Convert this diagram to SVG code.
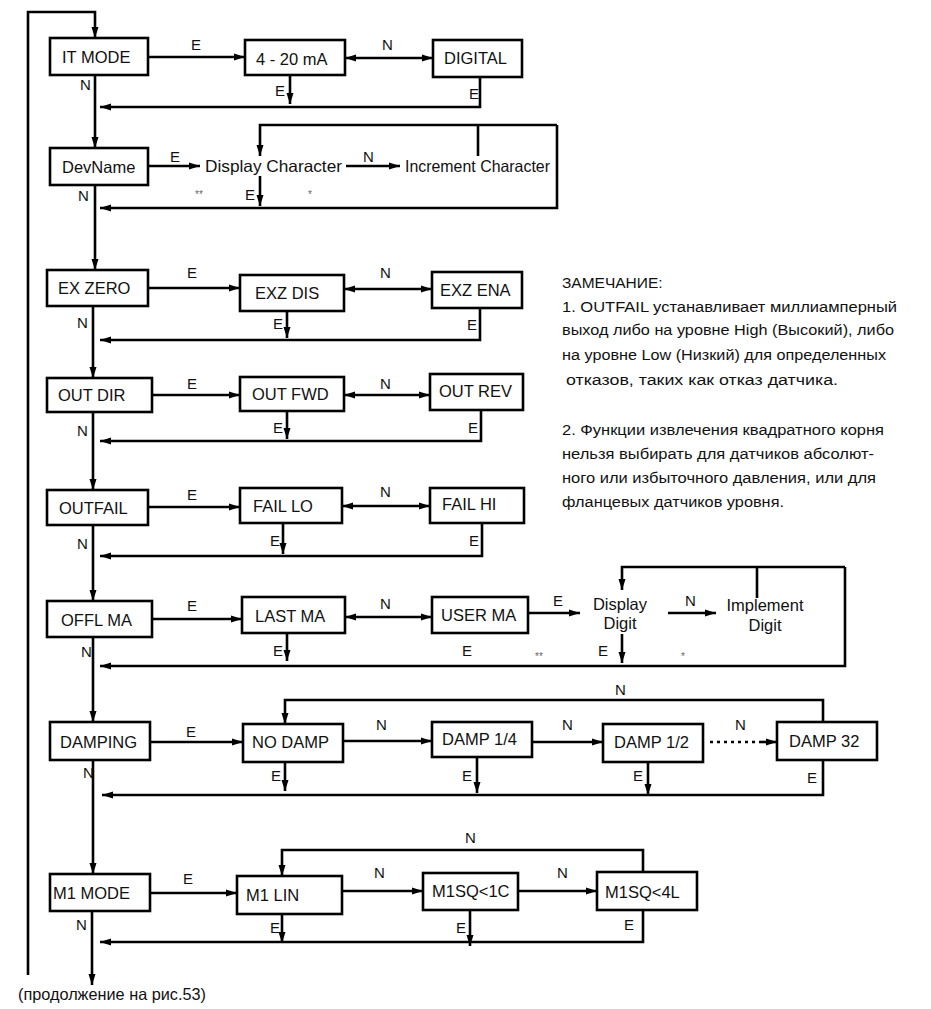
<svg xmlns="http://www.w3.org/2000/svg" width="931" height="1009" viewBox="0 0 931 1009">
<defs>
<marker id="ah" markerUnits="userSpaceOnUse" markerWidth="12" markerHeight="10" refX="11" refY="4.5" orient="auto-start-reverse">
<path d="M0,1 L11,4.5 L0,8 z" fill="#000"/>
</marker>
</defs>
<style>
.b{fill:#fff;stroke:#000;stroke-width:2.6}
.t{font-family:"Liberation Sans",Arial,sans-serif;font-size:16.5px;fill:#111}
.l{font-family:"Liberation Sans",Arial,sans-serif;font-size:15px;fill:#111}
.s{font-family:"Liberation Sans",Arial,sans-serif;font-size:10px;fill:#666}
.n{font-family:"Liberation Sans",Arial,sans-serif;font-size:15.5px;fill:#111}
.c{fill:none;stroke:#000;stroke-width:2.6}
.a{marker-end:url(#ah)}
.d{marker-start:url(#ah);marker-end:url(#ah)}
</style>
<rect width="931" height="1009" fill="#fff"/>

<g id="connectors">
<path class="c a" d="M28,975 V12 H95 V38"/>
<path class="c a" d="M95,75 V148"/>
<path class="c a" d="M95,185 V270"/>
<path class="c a" d="M93,306 V378"/>
<path class="c a" d="M93,412 V490"/>
<path class="c a" d="M93,525 V601"/>
<path class="c a" d="M93,637 V722"/>
<path class="c a" d="M93,760 V874"/>
<path class="c a" d="M92,911 V985"/>

<path class="c a" d="M148,57 H245"/>
<path class="c d" d="M345,58 H433"/>
<path class="c a" d="M290,75 V104"/>
<path class="c a" d="M480,77 V107 H100"/>

<path class="c a" d="M148,166 H200"/>
<path class="c a" d="M346,166 H400"/>
<path class="c" d="M478,156 V125"/>
<path class="c a" d="M557,125 H260 V156"/>
<path class="c a" d="M557,125 V208 H100"/>
<path class="c a" d="M260,176 V206"/>

<path class="c a" d="M148,288 H240"/>
<path class="c d" d="M344,289 H432"/>
<path class="c a" d="M287,311 V338"/>
<path class="c a" d="M480,308 V340 H100"/>

<path class="c a" d="M152,395 H240"/>
<path class="c d" d="M344,395 H430"/>
<path class="c a" d="M287,411 V439"/>
<path class="c a" d="M481,410 V441 H100"/>

<path class="c a" d="M148,507 H240"/>
<path class="c d" d="M342,506 H430"/>
<path class="c a" d="M283,523 V554"/>
<path class="c a" d="M482,523 V556 H100"/>

<path class="c a" d="M152,619 H242"/>
<path class="c d" d="M345,617 H432"/>
<path class="c a" d="M287,633 V661"/>
<path class="c a" d="M528,613 H580"/>
<path class="c a" d="M668,613 H716"/>
<path class="c" d="M757,598 V567"/>
<path class="c a" d="M845,567 H622 V590"/>
<path class="c a" d="M845,567 V666 H100"/>
<path class="c a" d="M622,634 V663"/>

<path class="c a" d="M150,742 H243"/>
<path class="c a" d="M343,741 H432"/>
<path class="c a" d="M532,742 H603"/>
<path class="c" d="M710,742 H760" stroke-dasharray="3,4"/>
<path class="c a" d="M760,742 H777"/>
<path class="c a" d="M823,722 V700 H285 V724"/>
<path class="c a" d="M285,762 V791"/>
<path class="c a" d="M477,757 V793"/>
<path class="c a" d="M648,762 V795"/>
<path class="c a" d="M823,760 V795 H102"/>

<path class="c a" d="M150,893 H237"/>
<path class="c a" d="M342,891 H423"/>
<path class="c a" d="M518,891 H597"/>
<path class="c a" d="M643,872 V850 H282 V876"/>
<path class="c a" d="M282,914 V943"/>
<path class="c a" d="M470,910 V946"/>
<path class="c a" d="M643,910 V942 H100"/>
</g>

<g id="edge-labels">
<text class="l" x="191" y="50">E</text>
<text class="l" x="382" y="50">N</text>
<text class="l" x="275" y="96">E</text>
<text class="l" x="469" y="99">E</text>
<text class="l" x="80" y="90">N</text>
<text class="l" x="170" y="162">E</text>
<text class="l" x="363" y="162">N</text>
<text class="l" x="245" y="200">E</text>
<text class="s" x="195" y="198">**</text>
<text class="s" x="308" y="198">*</text>
<text class="l" x="78" y="201">N</text>
<text class="l" x="187" y="278">E</text>
<text class="l" x="380" y="278">N</text>
<text class="l" x="273" y="329">E</text>
<text class="l" x="467" y="330">E</text>
<text class="l" x="77" y="328">N</text>
<text class="l" x="187" y="389">E</text>
<text class="l" x="380" y="389">N</text>
<text class="l" x="273" y="433">E</text>
<text class="l" x="468" y="433">E</text>
<text class="l" x="77" y="436">N</text>
<text class="l" x="187" y="500">E</text>
<text class="l" x="380" y="497">N</text>
<text class="l" x="270" y="546">E</text>
<text class="l" x="469" y="546">E</text>
<text class="l" x="77" y="549">N</text>
<text class="l" x="187" y="611">E</text>
<text class="l" x="380" y="609">N</text>
<text class="l" x="273" y="656">E</text>
<text class="l" x="462" y="656">E</text>
<text class="l" x="553" y="606">E</text>
<text class="l" x="685" y="606">N</text>
<text class="l" x="598" y="656">E</text>
<text class="s" x="535" y="660">**</text>
<text class="s" x="681" y="660">*</text>
<text class="l" x="81" y="657">N</text>
<text class="l" x="186" y="737">E</text>
<text class="l" x="376" y="730">N</text>
<text class="l" x="562" y="730">N</text>
<text class="l" x="735" y="730">N</text>
<text class="l" x="615" y="695">N</text>
<text class="l" x="271" y="781">E</text>
<text class="l" x="462" y="781">E</text>
<text class="l" x="633" y="781">E</text>
<text class="l" x="807" y="783">E</text>
<text class="l" x="83" y="778">N</text>
<text class="l" x="183" y="884">E</text>
<text class="l" x="374" y="878">N</text>
<text class="l" x="557" y="878">N</text>
<text class="l" x="465" y="843">N</text>
<text class="l" x="270" y="933">E</text>
<text class="l" x="456" y="933">E</text>
<text class="l" x="624" y="930">E</text>
<text class="l" x="76" y="930">N</text>
</g>

<g id="n-itmode"><rect class="b" x="50" y="38" width="98" height="37"/><text class="t" x="62" y="63">IT MODE</text></g>
<g id="n-420"><rect class="b" x="245" y="40" width="100" height="35"/><text class="t" x="256" y="65">4 - 20 mA</text></g>
<g id="n-digital"><rect class="b" x="433" y="40" width="89" height="37"/><text class="t" x="444" y="64">DIGITAL</text></g>

<g id="n-devname"><rect class="b" x="50" y="148" width="98" height="37"/><text class="t" x="62" y="173">DevName</text></g>
<g id="n-dispchar"><text class="t" x="205" y="172" textLength="137" lengthAdjust="spacingAndGlyphs">Display Character</text></g>
<g id="n-incchar"><text class="t" x="405" y="172" textLength="145" lengthAdjust="spacingAndGlyphs">Increment Character</text></g>

<g id="n-exzero"><rect class="b" x="47" y="270" width="101" height="36"/><text class="t" x="58" y="294">EX ZERO</text></g>
<g id="n-exzdis"><rect class="b" x="240" y="275" width="104" height="36"/><text class="t" x="255" y="299">EXZ DIS</text></g>
<g id="n-exzena"><rect class="b" x="432" y="272" width="90" height="36"/><text class="t" x="440" y="296">EXZ ENA</text></g>

<g id="n-outdir"><rect class="b" x="47" y="378" width="105" height="34"/><text class="t" x="58" y="401">OUT DIR</text></g>
<g id="n-outfwd"><rect class="b" x="240" y="377" width="104" height="34"/><text class="t" x="252" y="400">OUT FWD</text></g>
<g id="n-outrev"><rect class="b" x="430" y="374" width="93" height="36"/><text class="t" x="439" y="397">OUT REV</text></g>

<g id="n-outfail"><rect class="b" x="47" y="490" width="101" height="35"/><text class="t" x="59" y="514">OUTFAIL</text></g>
<g id="n-faillo"><rect class="b" x="240" y="488" width="102" height="35"/><text class="t" x="253" y="512">FAIL LO</text></g>
<g id="n-failhi"><rect class="b" x="430" y="488" width="94" height="35"/><text class="t" x="442" y="510">FAIL HI</text></g>

<g id="n-offlma"><rect class="b" x="47" y="601" width="105" height="36"/><text class="t" x="61" y="626">OFFL MA</text></g>
<g id="n-lastma"><rect class="b" x="242" y="597" width="103" height="36"/><text class="t" x="255" y="622">LAST MA</text></g>
<g id="n-userma"><rect class="b" x="432" y="597" width="96" height="36"/><text class="t" x="441" y="621">USER MA</text></g>
<g id="n-dispdigit"><text class="t" x="620" y="610" text-anchor="middle">Display</text><text class="t" x="620" y="629" text-anchor="middle">Digit</text></g>
<g id="n-impdigit"><text class="t" x="765" y="611" text-anchor="middle">Implement</text><text class="t" x="765" y="631" text-anchor="middle">Digit</text></g>

<g id="n-damping"><rect class="b" x="50" y="722" width="100" height="38"/><text class="t" x="60" y="748">DAMPING</text></g>
<g id="n-nodamp"><rect class="b" x="243" y="724" width="100" height="38"/><text class="t" x="252" y="748">NO DAMP</text></g>
<g id="n-damp14"><rect class="b" x="432" y="722" width="100" height="35"/><text class="t" x="442" y="745">DAMP 1/4</text></g>
<g id="n-damp12"><rect class="b" x="603" y="724" width="100" height="38"/><text class="t" x="614" y="748">DAMP 1/2</text></g>
<g id="n-damp32"><rect class="b" x="777" y="722" width="100" height="38"/><text class="t" x="789" y="747">DAMP 32</text></g>

<g id="n-m1mode"><rect class="b" x="50" y="874" width="100" height="37"/><text class="t" x="53" y="899">M1 MODE</text></g>
<g id="n-m1lin"><rect class="b" x="237" y="876" width="105" height="38"/><text class="t" x="246" y="901">M1 LIN</text></g>
<g id="n-m1sq1c"><rect class="b" x="423" y="873" width="95" height="37"/><text class="t" x="432" y="897">M1SQ&lt;1C</text></g>
<g id="n-m1sq4l"><rect class="b" x="597" y="872" width="100" height="38"/><text class="t" x="605" y="898">M1SQ&lt;4L</text></g>

<g id="n-cont"><text class="t" x="18" y="1000" textLength="188" lengthAdjust="spacingAndGlyphs">(продолжение на рис.53)</text></g>

<g id="note" class="n">
<text x="562" y="288">ЗАМЕЧАНИЕ:</text>
<text x="562" y="312" textLength="335" lengthAdjust="spacingAndGlyphs">1. OUTFAIL устанавливает миллиамперный</text>
<text x="562" y="335" textLength="332" lengthAdjust="spacingAndGlyphs">выход либо на уровне High (Высокий), либо</text>
<text x="562" y="360" textLength="324" lengthAdjust="spacingAndGlyphs">на уровне Low (Низкий) для определенных</text>
<text x="566" y="385" textLength="272" lengthAdjust="spacingAndGlyphs">отказов, таких как отказ датчика.</text>
<text x="562" y="435" textLength="322" lengthAdjust="spacingAndGlyphs">2. Функции извлечения квадратного корня</text>
<text x="562" y="459" textLength="312" lengthAdjust="spacingAndGlyphs">нельзя выбирать для датчиков абсолют-</text>
<text x="562" y="483" textLength="314" lengthAdjust="spacingAndGlyphs">ного или избыточного давления, или для</text>
<text x="562" y="507" textLength="222" lengthAdjust="spacingAndGlyphs">фланцевых датчиков уровня.</text>
</g>
</svg>
